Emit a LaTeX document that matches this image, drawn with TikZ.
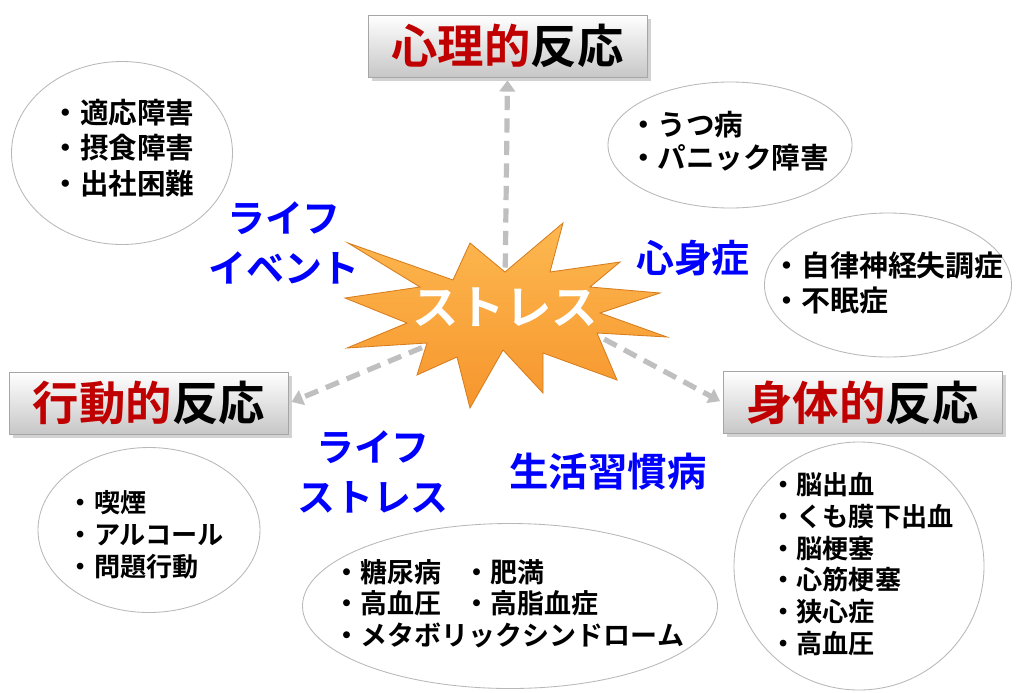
\documentclass[tikz,border=0pt]{standalone}
\usepackage{fontspec}
\setmainfont{Noto Sans CJK JP}[BoldFont={Noto Sans CJK JP Bold}]
\usepackage{tikz}
\usetikzlibrary{arrows.meta,shapes.geometric,shadows}

\definecolor{boxred}{RGB}{192,0,0}
\definecolor{labelblue}{RGB}{0,0,255}
\definecolor{arrowgray}{RGB}{191,191,191}
\definecolor{starlight}{RGB}{253,184,80}
\definecolor{stardark}{RGB}{246,150,45}
\definecolor{staredge}{RGB}{215,125,30}
\def\pxu{0.025cm}

\tikzset{
	titlebox/.style={draw=black!35, line width=0.7pt, top color=white, bottom color=black!22,
		minimum width=279*\pxu, minimum height=62*\pxu, inner sep=0pt,
		font=\fontsize{33}{36}\selectfont\bfseries,
		drop shadow={shadow xshift=2.5pt, shadow yshift=-2.5pt, opacity=0.35}},
	oval/.style={ellipse, draw=black!28, line width=0.6pt, inner sep=0pt},
	itemlist/.style={align=left, inner sep=0pt},
	bluelabel/.style={text=labelblue, align=center, inner sep=0pt, font=\fontsize{27}{35}\selectfont\bfseries},
	dasharrow/.style={arrowgray, line width=3.7pt, dash pattern=on 10pt off 6pt,
		-{Triangle[length=8pt,width=11pt]}, shorten >=2pt}
}

\begin{document}
\begin{tikzpicture}[x=\pxu, y=-\pxu]
		%%%%% START %%%%%
		
		\fill[white] (0, 0) rectangle (1024, 692);
		\useasboundingbox (0, 0) rectangle (1024, 692);
		
		% reaction boxes
		\node[titlebox] (shinri) at (507.5, 46) {\textcolor{boxred}{心理的}反応};
		\node[titlebox] (koudou) at (149, 403) {\textcolor{boxred}{行動的}反応};
		\node[titlebox] (shintai) at (862.5, 402.5) {\textcolor{boxred}{身体的}反応};
		
		% ellipses
		\node[oval, minimum width=221*\pxu, minimum height=183*\pxu] (tl) at (122, 153) {};
		\node[oval, minimum width=244*\pxu, minimum height=126*\pxu] (tr) at (730, 145) {};
		\node[oval, minimum width=247*\pxu, minimum height=144*\pxu] (rm) at (888, 285) {};
		\node[oval, minimum width=222*\pxu, minimum height=165*\pxu] (bl) at (149, 530) {};
		\node[oval, minimum width=415*\pxu, minimum height=165*\pxu] (bm) at (510, 606) {};
		\node[oval, minimum width=250*\pxu, minimum height=248*\pxu] (br) at (859, 566) {};
		
		\node[itemlist, font=\fontsize{20.3}{25.2}\selectfont\bfseries] (tltext) at (123, 148) {・適応障害\\・摂食障害\\・出社困難};
		\node[itemlist, font=\fontsize{20.3}{23.5}\selectfont\bfseries] (trtext) at (729, 141.5) {・うつ病\\・パニック障害};
		\node[itemlist, font=\fontsize{20.6}{24.9}\selectfont\bfseries] (rmtext) at (888, 282.5) {・自律神経失調症\\・不眠症};
		\node[itemlist, font=\fontsize{18.6}{22.8}\selectfont\bfseries] (bltext) at (146, 535) {・喫煙\\・アルコール\\・問題行動};
		\node[itemlist, font=\fontsize{19.2}{22.4}\selectfont\bfseries] (bmtext) at (509, 603.5) {\makebox[4.8em][l]{・糖尿病}・肥満\\\makebox[4.8em][l]{・高血圧}・高脂血症\\・メタボリックシンドローム};
		\node[itemlist, font=\fontsize{18.6}{22.5}\selectfont\bfseries] (brtext) at (862, 564) {・脳出血\\・くも膜下出血\\・脳梗塞\\・心筋梗塞\\・狭心症\\・高血圧};
		
		% blue labels
		\node[bluelabel] (event) at (284, 243) {ライフ\\イベント};
		\node[bluelabel] (shinshin) at (693, 258) {心身症};
		\node[bluelabel] (lifestress) at (373, 472) {ライフ\\ストレス};
		\node[bluelabel, font=\fontsize{28}{35}\selectfont\bfseries] (seikatsu) at (608, 472) {生活習慣病};
		
		% arrows out of the star
		\coordinate (su) at (505, 290);
		\coordinate (sl) at (505, 313);
		\coordinate (sr) at (505, 286);
		\draw[dasharrow] (su) -- (shinri.south);
		\draw[dasharrow] (sl) -- (koudou.east);
		\draw[dasharrow] (sr) -- (shintai.west);
		
		% star
		\draw[staredge, line width=0.6pt, top color=starlight, bottom color=stardark]
			(348, 243) -- (453, 280) -- (470, 243) -- (505, 272) -- (563, 223) -- (550, 272)
			-- (620, 262) -- (590, 287) -- (660, 293) -- (600, 313) -- (667, 337) -- (597, 333)
			-- (617, 380) -- (543, 353) -- (543, 393) -- (503, 350) -- (470, 408) -- (457, 357)
			-- (417, 375) -- (427, 343) -- (347, 348) -- (407, 323) -- (345, 298) -- (420, 287) -- cycle;
		\node[text=white, inner sep=0pt, font=\fontsize{33}{36}\selectfont\bfseries] (stress) at (505, 307) {ストレス};
		
		%%%%% END %%%%%
\end{tikzpicture}
\end{document}
